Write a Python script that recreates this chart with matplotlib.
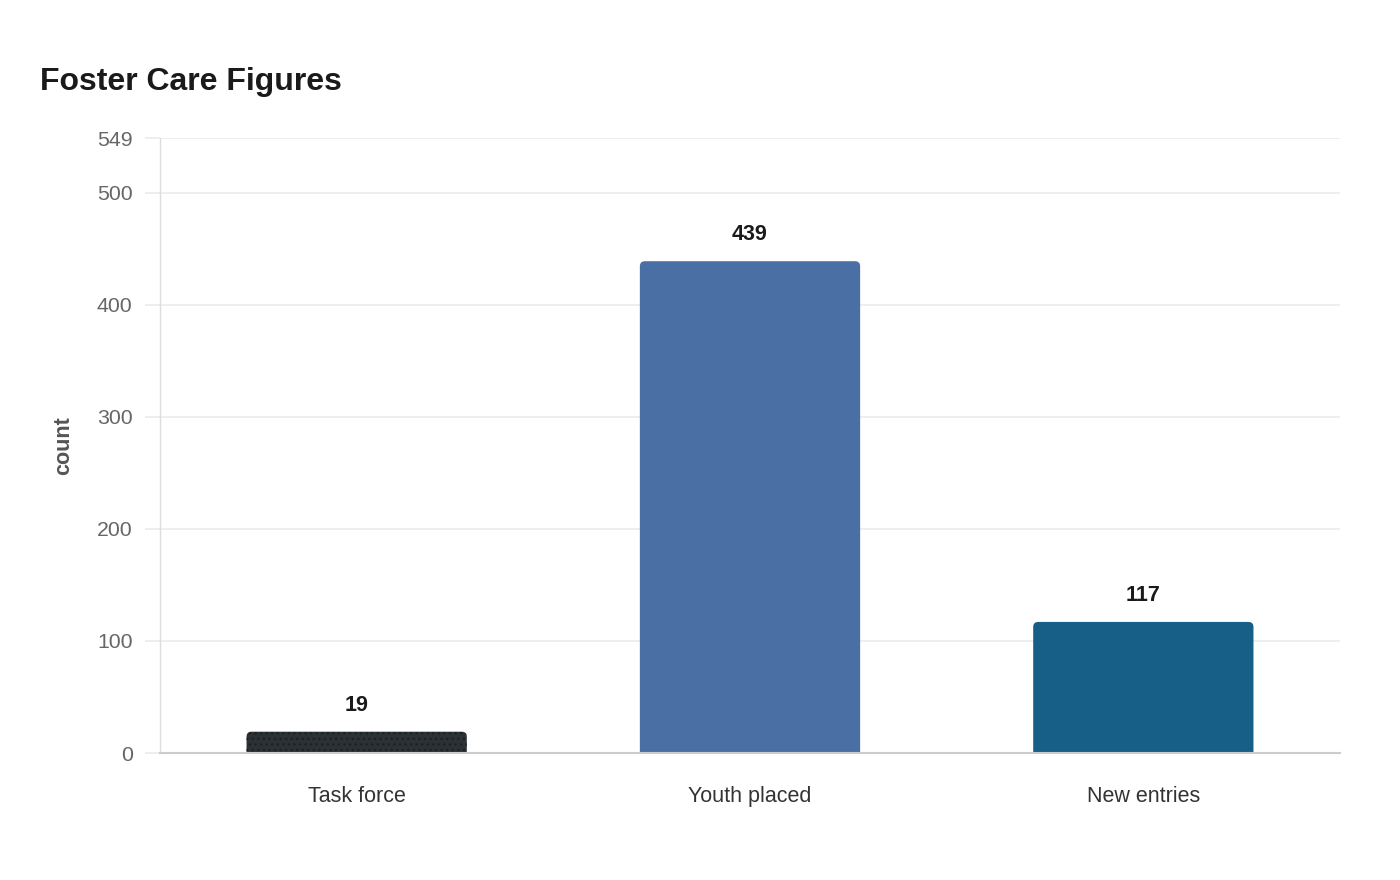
import matplotlib
matplotlib.use("Agg")
import matplotlib.pyplot as plt
from matplotlib.patches import FancyBboxPatch

plt.rcParams['font.family'] = ['Liberation Sans', 'DejaVu Sans']
plt.rcParams['hatch.linewidth'] = 1.0

categories = ["Task force", "Youth placed", "New entries"]
counts = [19, 439, 117]
colors = ["#2b3134", "#4a6fa5", "#175f87"]
hatches = ["...", None, None]
y_ticks = [0, 100, 200, 300, 400, 500, 549]

fig = plt.figure(figsize=(14, 8.8), dpi=100)
ax = fig.add_axes([160 / 1400, 1 - 753 / 880, 1180 / 1400, 615 / 880])

x = list(range(len(categories)))
bars = ax.bar(x, counts, width=0.56, color=colors)

ax.set_xlim(-0.5, 2.5)
ax.set_ylim(0, 549)

# swap plain bars for ones with rounded top corners
for bar, col, h in zip(bars, colors, hatches):
    bx, bw, bh = bar.get_x(), bar.get_width(), bar.get_height()
    bar.remove()
    patch = FancyBboxPatch((bx, -10), bw, bh + 10,
                           boxstyle="round,pad=0,rounding_size=0.0127",
                           mutation_aspect=351,
                           facecolor=col, edgecolor="#1d2123" if h else col,
                           linewidth=0, hatch=h, zorder=2)
    ax.add_patch(patch)

for xi, v in zip(x, counts):
    ax.annotate(str(v), (xi, v), xytext=(0, 19), textcoords="offset points",
                ha="center", va="center", fontsize=15.5, fontweight="bold",
                color="#1a1a1a")

ax.set_yticks(y_ticks)
ax.set_xticks(x)
ax.set_xticklabels(categories)
ax.grid(axis="y", color="#ebebeb", linewidth=1.2, zorder=0)
ax.set_axisbelow(True)
ax.tick_params(axis="y", length=10.8, width=1.2, color="#ebebeb", pad=9,
               labelsize=15.3, labelcolor="#666666")
ax.tick_params(axis="x", length=0, pad=24, labelsize=15.5, labelcolor="#333333")

for s in ["top", "right"]:
    ax.spines[s].set_visible(False)
ax.spines["left"].set_color("#dddddd")
ax.spines["left"].set_linewidth(1)
ax.spines["bottom"].set_color("#cccccc")
ax.spines["bottom"].set_linewidth(1.5)
ax.spines["bottom"].set_zorder(3)

ax.set_ylabel("count", fontsize=15.5, fontweight="bold", color="#555555", va="center")
ax.yaxis.set_label_coords(-0.082, 0.5)

fig.text(40 / 1400, 1 - 82 / 880, "Foster Care Figures", fontsize=23,
         fontweight="bold", color="#1a1a1a", ha="left", va="center")

fig.savefig("out.png", dpi=100, facecolor="white")
